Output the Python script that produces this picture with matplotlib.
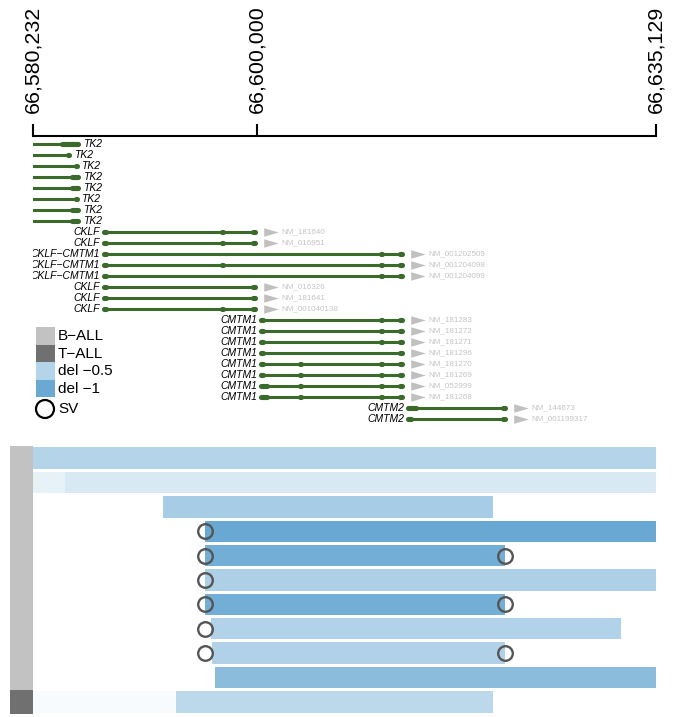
import matplotlib
matplotlib.use("Agg")
import matplotlib.pyplot as plt
import matplotlib.ticker as mticker
from matplotlib.colors import LinearSegmentedColormap, Normalize
from matplotlib.transforms import offset_copy
from matplotlib.patches import Rectangle, Circle
from matplotlib.path import Path

plt.rcParams['font.family'] = ['Liberation Sans', 'DejaVu Sans']

W, H = 682, 717

# region shown (chr16)
region_start = 66580232
region_end = 66635129
axis_ticks = [66580232, 66600000, 66635129]

# transcripts, one per row
tx_gene = ["TK2"] * 8 + ["CKLF", "CKLF", "CKLF\u2212CMTM1", "CKLF\u2212CMTM1", "CKLF\u2212CMTM1",
                         "CKLF", "CKLF", "CKLF"] + ["CMTM1"] * 8 + ["CMTM2", "CMTM2"]
tx_acc = [""] * 8 + ["NM_181640", "NM_016951", "NM_001202509", "NM_001204098", "NM_001204099",
                     "NM_016326", "NM_181641", "NM_001040138",
                     "NM_181283", "NM_181272", "NM_181271", "NM_181296", "NM_181270",
                     "NM_181269", "NM_052999", "NM_181268", "NM_144673", "NM_001199317"]
tx_strand = ["-"] * 8 + ["+"] * 18
tx_start = [66541000] * 8 + [66586488] * 8 + [66600323] * 8 + [66613276] * 2
tx_end = [66584286, 66583492, 66584109, 66584286, 66584286, 66584109, 66584286, 66584286,
          66599830, 66599830, 66612780, 66612780, 66612780, 66599830, 66599830, 66599830,
          66612780, 66612780, 66612780, 66612780, 66612780, 66612780, 66612780, 66612780,
          66621830, 66621830]
tx_exons = [
    [(66582787, 66584200)],
    [(66582760, 66582820), (66583350, 66583420)],
    [(66582760, 66582820), (66584040, 66584109)],
    [(66581790, 66581850), (66582760, 66582820), (66583669, 66584200)],
    [(66582760, 66582820), (66583669, 66584200)],
    [(66582760, 66582820), (66584040, 66584109)],
    [(66582760, 66582820), (66583669, 66584200)],
    [(66582760, 66582820), (66583669, 66584200)],
    [(66586500, 66586700), (66596930, 66597010), (66599650, 66599830)],
    [(66586500, 66586700), (66592000, 66592080), (66596930, 66597010), (66599650, 66599830)],
    [(66586500, 66586700), (66610940, 66611020), (66612600, 66612780)],
    [(66586500, 66586700), (66596930, 66597010), (66610940, 66611020), (66612600, 66612780)],
    [(66586500, 66586700), (66592000, 66592080), (66610940, 66611020), (66612600, 66612780)],
    [(66586500, 66586700), (66599650, 66599830)],
    [(66586500, 66586700), (66592000, 66592080), (66599650, 66599830)],
    [(66586500, 66586700), (66592000, 66592080), (66596930, 66597010), (66599650, 66599830)],
    [(66600340, 66600540), (66610940, 66611020), (66612600, 66612780)],
    [(66600340, 66600540), (66610940, 66611020), (66612600, 66612780)],
    [(66600340, 66600540), (66610940, 66611020), (66612600, 66612780)],
    [(66600340, 66600540), (66612600, 66612780)],
    [(66600340, 66600540), (66603800, 66603880), (66610940, 66611020), (66612600, 66612780)],
    [(66600340, 66600540), (66603800, 66603880), (66610940, 66611020), (66612600, 66612780)],
    [(66600340, 66600850), (66603800, 66603880), (66610940, 66611020), (66612600, 66612780)],
    [(66600340, 66600850), (66603800, 66603880), (66610940, 66611020), (66612600, 66612780)],
    [(66613300, 66614000), (66620900, 66620980), (66621650, 66621830)],
    [(66613300, 66613500), (66620900, 66620980), (66621650, 66621830)],
]

# deletion segments per sample row (log ratio)
seg_row = [0, 1, 1, 2, 3, 4, 5, 6, 7, 8, 9, 10, 10]
seg_start = [66580232, 66580232, 66583052, 66591688, 66595389, 66595389, 66595389, 66595389,
             66595917, 66596005, 66596270, 66580232, 66592833]
seg_end = [66635129, 66583052, 66635129, 66620767, 66635129, 66621825, 66635129, 66621825,
           66632047, 66621825, 66635129, 66592833, 66620767]
seg_value = [-0.50, -0.16, -0.26, -0.59, -1.01, -0.94, -0.55, -0.94, -0.52, -0.53, -0.78, -0.05, -0.45]

sample_group = ["B-ALL"] * 10 + ["T-ALL"]

# structural variant breakpoints
sv_row = [3, 4, 4, 5, 6, 6, 7, 8, 8]
sv_pos = [66595389, 66595389, 66621825, 66595389, 66595389, 66621825, 66595389, 66595389, 66621825]

gene_color = "#3a6b2b"
group_colors = {"B-ALL": "#c2c2c2", "T-ALL": "#707070"}
del_cmap = LinearSegmentedColormap.from_list("del", ["#3d8fc5", "#ffffff"])
del_norm = Normalize(vmin=-1.3, vmax=0)

fig = plt.figure(figsize=(W / 100, H / 100), dpi=100)


def px_axes(left, top, right, bottom):
    return fig.add_axes([left / W, 1 - bottom / H, (right - left) / W, (bottom - top) / H])


# ---- gene track ----
ax = px_axes(33, 136, 656, 430)
ax.set_xlim(region_start, region_end)
ax.set_ylim(len(tx_gene), -0.73)
for s in ["left", "right", "bottom"]:
    ax.spines[s].set_visible(False)
ax.spines["top"].set_linewidth(1.5)
ax.xaxis.tick_top()
ax.set_xticks(axis_ticks)
ax.xaxis.set_major_formatter(mticker.FuncFormatter(lambda v, p: f"{int(round(v)):,}"))
ax.tick_params(axis="x", direction="out", length=8.6, width=1.5, pad=8,
               labelsize=15.4, labelrotation=90)
ax.set_yticks([])
ax.patch.set_visible(False)

arrow = Path([(-1, -0.58), (1, 0), (-1, 0.58), (-1, -0.58)],
             [Path.MOVETO, Path.LINETO, Path.LINETO, Path.CLOSEPOLY])
left_lab = offset_copy(ax.transData, fig=fig, x=-4, y=0, units="dots")
right_lab = offset_copy(ax.transData, fig=fig, x=4, y=0, units="dots")
arr_tr = offset_copy(ax.transData, fig=fig, x=16, y=0, units="dots")
acc_tr = offset_copy(ax.transData, fig=fig, x=26, y=0, units="dots")

for i in range(len(tx_gene)):
    ax.plot([tx_start[i], tx_end[i]], [i, i], color=gene_color, lw=2.2,
            solid_capstyle="butt")
    for s, e in tx_exons[i]:
        ax.plot([s, e], [i, i], color=gene_color, lw=3.7, solid_capstyle="round")
    if tx_strand[i] == "+":
        ax.text(tx_start[i], i, tx_gene[i], transform=left_lab, ha="right", va="center",
                fontsize=7.5, style="italic", clip_on=True)
        ax.plot([tx_end[i]], [i], marker=arrow, ms=10.5, color="#c0c0c0", mec="none",
                transform=arr_tr, clip_on=False)
        ax.text(tx_end[i], i, tx_acc[i], transform=acc_tr, ha="left", va="center",
                fontsize=5.8, color="#c4c4c4")
    else:
        ax.text(tx_end[i], i, tx_gene[i], transform=right_lab, ha="left", va="center",
                fontsize=7.5, style="italic", clip_on=True)

# ---- legend ----
lg = px_axes(30, 320, 150, 425)
lg.set_xlim(30, 150)
lg.set_ylim(425, 320)
lg.axis("off")
legend_labels = ["B\u2212ALL", "T\u2212ALL", "del \u22120.5", "del \u22121"]
legend_fill = [group_colors["B-ALL"], group_colors["T-ALL"],
               del_cmap(del_norm(-0.5)), del_cmap(del_norm(-1.0))]
for k, (lab, col) in enumerate(zip(legend_labels, legend_fill)):
    lg.add_patch(Rectangle((36, 327 + 17.6 * k), 19, 17.6, color=col, lw=0))
    lg.text(58, 336 + 17.6 * k, lab, fontsize=11, va="center", ha="left")
lg.add_patch(Circle((45, 409), 9, fill=False, ec="black", lw=1.6))
lg.text(58, 409, "SV", fontsize=11, va="center", ha="left")

# ---- samples ----
n_samples = len(sample_group)
bx = px_axes(33, 446, 656, 714)
bx.set_xlim(region_start, region_end)
bx.set_ylim(n_samples - 0.5, -0.5)
bx.axis("off")
bx.barh(seg_row, [e - s for s, e in zip(seg_start, seg_end)], left=seg_start, height=0.88,
        color=[del_cmap(del_norm(v)) for v in seg_value], lw=0)
bx.plot(sv_pos, sv_row, "o", ms=10.5, mfc="none", mec="#555555", mew=1.7, clip_on=False)

sx = px_axes(10, 446, 33, 714)
sx.set_xlim(0, 1)
sx.set_ylim(n_samples - 0.5, -0.5)
sx.axis("off")
sx.barh(range(n_samples), 1, left=0, height=1.0,
        color=[group_colors[g] for g in sample_group], lw=0)

fig.savefig("out.png", dpi=100)
